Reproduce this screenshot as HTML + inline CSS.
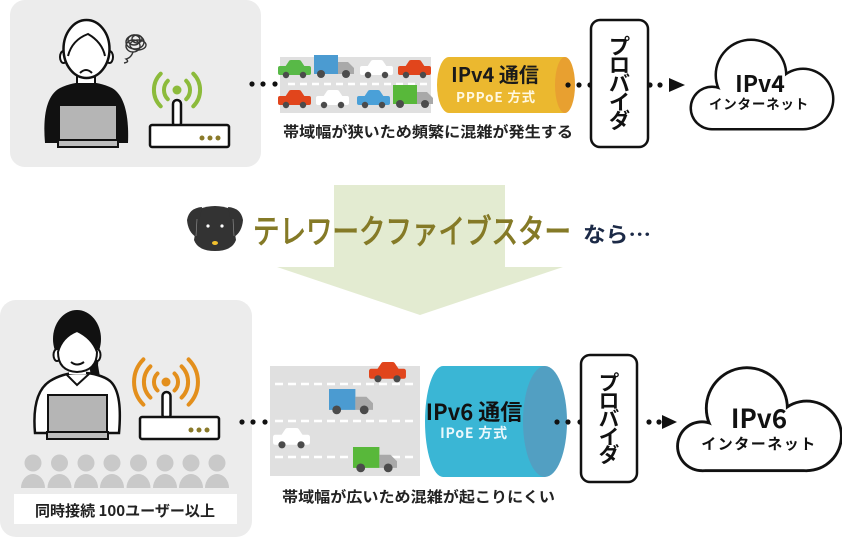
<!DOCTYPE html>
<html><head><meta charset="utf-8">
<style>
html,body{margin:0;padding:0;background:#fff;}
svg{display:block;}
text{font-family:"Liberation Sans","Noto Sans CJK JP",sans-serif;}
.jp{font-family:"Noto Sans CJK JP","Liberation Sans",sans-serif;}
</style></head>
<body>
<svg width="842" height="537" viewBox="0 0 842 537" xmlns="http://www.w3.org/2000/svg">
<defs>
<g id="car">
  <path d="M7 7 L11 1 Q11.5 0 13 0 L21 0 Q22.5 0 23 1 L27 7 Z"/>
  <rect x="0" y="6" width="33" height="9" rx="2"/>
  <circle cx="8" cy="15" r="3.2" fill="#4b4b4b"/>
  <circle cx="25" cy="15" r="3.2" fill="#4b4b4b"/>
</g>
<g id="truck">
  <rect x="0" y="0" width="24" height="19"/>
  <path d="M24 7 L34 7 L40 13 L40 19 L24 19 Z" fill="#a9a9a9"/>
  <circle cx="7" cy="19" r="4" fill="#4b4b4b"/>
  <circle cx="32" cy="19" r="4" fill="#4b4b4b"/>
</g>
<g id="cloud">
  <g fill="#111">
    <circle cx="20" cy="68" r="22.5"/>
    <circle cx="59" cy="35" r="36.5"/>
    <circle cx="111" cy="59" r="31.5"/>
    <rect x="20" y="58" width="91" height="32.5"/>
  </g>
  <g fill="#fff">
    <circle cx="20" cy="68" r="20"/>
    <circle cx="59" cy="35" r="34"/>
    <circle cx="111" cy="59" r="29"/>
    <rect x="20" y="60" width="91" height="28"/>
  </g>
</g>
</defs>

<!-- panels -->
<rect x="10" y="0" width="251" height="167" rx="15" fill="#ececec"/>
<rect x="0" y="300" width="252" height="237" rx="16" fill="#ececec"/>

<!-- big arrow -->
<rect x="334" y="185" width="171" height="83" fill="#e3ebd1"/>
<polygon points="277,267 563,267 420,315" fill="#e3ebd1"/>

<!-- ===== TOP PERSON ===== -->
<path d="M45 143 C43 120 45 96 60 88 C68 84 78 82 86 82 C94 82 104 84 112 88 C126 96 129 120 128 143 Z" fill="#111"/>
<rect x="77" y="72" width="18" height="12" fill="#fff" stroke="#111" stroke-width="2"/>
<ellipse cx="63.5" cy="57" rx="3.5" ry="6" fill="#fff" stroke="#111" stroke-width="2"/>
<ellipse cx="109.5" cy="57" rx="3.5" ry="6" fill="#fff" stroke="#111" stroke-width="2"/>
<ellipse cx="86.5" cy="49" rx="23" ry="29" fill="#fff" stroke="#111" stroke-width="2.5"/>
<path d="M68 56 Q72 40 88 34 Q102 42 105 56" fill="none" stroke="#111" stroke-width="2"/>
<path d="M80 73 Q86 67 92 73" fill="none" stroke="#111" stroke-width="2"/>
<rect x="59" y="105" width="58" height="36" fill="#b5b5b5" stroke="#111" stroke-width="2"/>
<rect x="58" y="140" width="60" height="7" fill="#bdbdbd" stroke="#111" stroke-width="2"/>
<!-- scribble -->
<g fill="none" stroke="#333" stroke-width="1.4">
  <ellipse cx="135" cy="42" rx="9" ry="7"/>
  <ellipse cx="133" cy="46" rx="7" ry="6"/>
  <ellipse cx="138" cy="45" rx="8" ry="5"/>
  <ellipse cx="134" cy="40" rx="6" ry="5"/>
  <ellipse cx="137" cy="39" rx="5" ry="4"/>
  <path d="M133 52 Q131 58 126 59 Q130 62 124 63"/>
</g>
<!-- top router -->
<g fill="none" stroke="#8cbb3b" stroke-width="4" stroke-linecap="round">
  <path d="M167.8 80.8 A13 13 0 0 0 167.8 99.2"/>
  <path d="M186.2 80.8 A13 13 0 0 1 186.2 99.2"/>
  <path d="M160.7 73.7 A23 23 0 0 0 160.7 106.3"/>
  <path d="M193.3 73.7 A23 23 0 0 1 193.3 106.3"/>
</g>
<circle cx="177" cy="90" r="4.5" fill="#8cbb3b"/>
<rect x="173" y="100" width="8" height="27" rx="4" fill="#fff" stroke="#111" stroke-width="2.5"/>
<rect x="150" y="125" width="79" height="22" rx="2" fill="#fff" stroke="#111" stroke-width="2.5"/>
<g fill="#8a7a2a"><circle cx="202" cy="138" r="2.5"/><circle cx="210" cy="138" r="2.5"/><circle cx="218" cy="138" r="2.5"/></g>

<!-- ===== TOP TRAFFIC ===== -->
<rect x="280" y="57" width="151" height="56" fill="#e0e0e0"/>
<line x1="288" y1="84" x2="430" y2="84" stroke="#fff" stroke-width="2.5" stroke-dasharray="7 5"/>
<use href="#car" x="278" y="60" fill="#58b947"/>
<use href="#truck" x="314" y="55" fill="#4b9bd1"/>
<use href="#car" x="360" y="60" fill="#fff"/>
<use href="#car" x="398" y="60" fill="#e1451c"/>
<use href="#car" x="278" y="90" fill="#e1451c"/>
<use href="#car" x="316" y="90" fill="#fff"/>
<use href="#car" x="357" y="90" fill="#4aa0d8"/>
<use href="#truck" x="393" y="85" fill="#58b83a"/>

<!-- top pipe -->
<path d="M449 57 L565 57 L565 113 L449 113 A12 28 0 0 1 449 57 Z" fill="#ebb82f"/>
<ellipse cx="565" cy="85" rx="10" ry="28" fill="#e8a030"/>
<text x="495" y="82" font-size="20" font-weight="700" fill="#1a1a1a" text-anchor="middle" class="jp">IPv4 通信</text>
<text x="496" y="102" font-size="13.5" font-weight="700" fill="#fff8e0" text-anchor="middle" letter-spacing="0.8" class="jp">PPPoE 方式</text>

<text x="283" y="137" font-size="15" font-weight="700" fill="#222" textLength="290" lengthAdjust="spacingAndGlyphs" class="jp">帯域幅が狭いため頻繁に混雑が発生する</text>

<!-- top dots & arrows -->
<g fill="#111">
  <circle cx="252" cy="84" r="2.6"/><circle cx="263" cy="84" r="2.6"/><circle cx="275" cy="84" r="2.6"/>
  <circle cx="568" cy="85" r="2.6"/><circle cx="579" cy="85" r="2.6"/><circle cx="590" cy="85" r="2.6"/>
  <circle cx="650" cy="85" r="2.6"/><circle cx="660" cy="85" r="2.6"/>
  <polygon points="669,78 685,85 669,92"/>
</g>

<!-- top provider -->
<rect x="591" y="20" width="57" height="127" rx="9" fill="#fff" stroke="#111" stroke-width="2.5"/>
<g font-size="21" font-weight="700" fill="#111" text-anchor="middle">
  <text x="619.5" y="54" class="jp">プ</text>
  <text x="619.5" y="72.5" class="jp">ロ</text>
  <text x="619.5" y="91" class="jp">バ</text>
  <text x="619.5" y="109.5" class="jp">イ</text>
  <text x="619.5" y="128" class="jp">ダ</text>
</g>

<!-- top cloud -->
<use href="#cloud" x="692" y="40"/>
<text x="760" y="92" font-size="23" font-weight="700" fill="#111" text-anchor="middle" class="jp">IPv4</text>
<text x="759" y="109" font-size="13.5" font-weight="700" fill="#111" text-anchor="middle" letter-spacing="0.8" class="jp">インターネット</text>

<!-- ===== MIDDLE ===== -->
<path d="M199 209 Q215 203 231 209 L236 240 Q232 251 215 251 Q198 251 194 240 Z" fill="#333"/>
<path d="M202 207 Q189 208 187 220 Q188 232 196 237 Z" fill="#333"/>
<path d="M228 207 Q241 208 243 220 Q242 232 234 237 Z" fill="#333"/>
<path d="M197 219 L196 236 M233 219 L234 236" stroke="#8a8a8a" stroke-width="0.7" fill="none"/>
<circle cx="208" cy="226" r="1.6" fill="#fff"/>
<circle cx="222" cy="226" r="1.6" fill="#fff"/>
<ellipse cx="215" cy="243" rx="3" ry="2" fill="#f2c12e"/>

<text transform="translate(253,243) scale(1,1.22)" font-size="27" font-weight="400" fill="#857a27" stroke="#857a27" stroke-width="0.9" textLength="318" lengthAdjust="spacingAndGlyphs" class="jp">テレワークファイブスター</text>
<text x="583" y="242" font-size="21" font-weight="700" fill="#1c2a47" textLength="68" lengthAdjust="spacingAndGlyphs" class="jp">なら…</text>

<!-- ===== BOTTOM PERSON ===== -->
<path d="M86 340 Q100 350 98 365 Q100 378 102 385 L92 385 Z" fill="#111"/>
<path d="M35 433 C33 410 36 390 50 381 C58 376 68 373 76 373 L84 373 C92 373 104 376 110 381 C120 390 121 410 119 433 Z" fill="#fff" stroke="#111" stroke-width="2.5"/>
<path d="M66 374 L77 385 L89 374" fill="none" stroke="#111" stroke-width="2"/>
<rect x="69" y="364" width="17" height="10" fill="#fff"/>
<ellipse cx="77" cy="339" rx="24" ry="29" fill="#111"/>
<ellipse cx="57" cy="355" rx="3.5" ry="6" fill="#fff" stroke="#111" stroke-width="2"/>
<ellipse cx="97" cy="355" rx="3.5" ry="6" fill="#fff" stroke="#111" stroke-width="2"/>
<path d="M58 352 Q62 337 77 331 Q92 338 97 352 Q97 371 77 372 Q58 371 58 352 Z" fill="#fff" stroke="#111" stroke-width="2"/>
<path d="M71 362 Q77 367 84 362" fill="none" stroke="#111" stroke-width="2"/>
<rect x="48" y="395" width="59" height="38" fill="#b5b5b5" stroke="#111" stroke-width="2"/>
<rect x="47" y="432" width="61" height="7" fill="#bdbdbd" stroke="#111" stroke-width="2"/>

<!-- bottom router -->
<g fill="none" stroke="#e38f1c" stroke-width="4" stroke-linecap="round">
  <path d="M157.5 373.5 A12 12 0 0 0 157.5 390.5"/>
  <path d="M174.5 373.5 A12 12 0 0 1 174.5 390.5"/>
  <path d="M150.4 366.4 A22 22 0 0 0 150.4 397.6"/>
  <path d="M181.6 366.4 A22 22 0 0 1 181.6 397.6"/>
  <path d="M143.4 359.4 A32 32 0 0 0 143.4 404.6"/>
  <path d="M188.6 359.4 A32 32 0 0 1 188.6 404.6"/>
</g>
<circle cx="166" cy="382" r="4.5" fill="#e38f1c"/>
<rect x="162.5" y="392" width="8" height="27" rx="4" fill="#fff" stroke="#111" stroke-width="2.5"/>
<rect x="140" y="417" width="79" height="22" rx="2" fill="#fff" stroke="#111" stroke-width="2.5"/>
<g fill="#8a7a2a"><circle cx="191" cy="430" r="2.5"/><circle cx="199" cy="430" r="2.5"/><circle cx="207" cy="430" r="2.5"/></g>

<!-- people row -->
<g fill="#c9c9c9">
  <circle cx="33" cy="463" r="8.5"/><path d="M21 488 A12 14 0 0 1 45 488 Z"/>
  <circle cx="59.5" cy="463" r="8.5"/><path d="M47.5 488 A12 14 0 0 1 71.5 488 Z"/>
  <circle cx="86" cy="463" r="8.5"/><path d="M74 488 A12 14 0 0 1 98 488 Z"/>
  <circle cx="112" cy="463" r="8.5"/><path d="M100 488 A12 14 0 0 1 124 488 Z"/>
  <circle cx="138.5" cy="463" r="8.5"/><path d="M126.5 488 A12 14 0 0 1 150.5 488 Z"/>
  <circle cx="165" cy="463" r="8.5"/><path d="M153 488 A12 14 0 0 1 177 488 Z"/>
  <circle cx="191" cy="463" r="8.5"/><path d="M179 488 A12 14 0 0 1 203 488 Z"/>
  <circle cx="217" cy="463" r="8.5"/><path d="M205 488 A12 14 0 0 1 229 488 Z"/>
</g>
<rect x="14" y="494" width="223" height="30" fill="#fff"/>
<text x="35" y="516" font-size="15" font-weight="700" fill="#222" textLength="180" lengthAdjust="spacingAndGlyphs" class="jp">同時接続 100ユーザー以上</text>

<!-- bottom traffic -->
<rect x="270" y="366" width="150" height="110" fill="#e0e0e0"/>
<g stroke="#fff" stroke-width="2.5" stroke-dasharray="8 5">
  <line x1="275" y1="384" x2="418" y2="384"/>
  <line x1="275" y1="421" x2="418" y2="421"/>
  <line x1="275" y1="457" x2="418" y2="457"/>
</g>
<use href="#car" transform="translate(369,362) scale(1.12)" fill="#e1451c"/>
<use href="#truck" transform="translate(329,389) scale(1.1)" fill="#4b9bd1"/>
<use href="#car" transform="translate(273,428) scale(1.12)" fill="#fff"/>
<use href="#truck" transform="translate(353,447) scale(1.1)" fill="#58b83a"/>

<!-- bottom pipe -->
<path d="M443 366 L545 366 L545 477 L443 477 A18 55.5 0 0 1 443 366 Z" fill="#3ab6d5"/>
<ellipse cx="545" cy="421.5" rx="22" ry="55.5" fill="#529fc2"/>
<text x="474" y="420" font-size="22" font-weight="700" fill="#111" text-anchor="middle" class="jp">IPv6 通信</text>
<text x="474" y="438" font-size="14" font-weight="700" fill="#eaf8fc" text-anchor="middle" letter-spacing="0.8" class="jp">IPoE 方式</text>

<text x="282" y="502" font-size="15" font-weight="700" fill="#222" textLength="273" lengthAdjust="spacingAndGlyphs" class="jp">帯域幅が広いため混雑が起こりにくい</text>

<!-- bottom dots -->
<g fill="#111">
  <circle cx="242" cy="422" r="2.6"/><circle cx="253" cy="422" r="2.6"/><circle cx="265" cy="422" r="2.6"/>
  <circle cx="557" cy="422" r="2.6"/><circle cx="568" cy="422" r="2.6"/><circle cx="580" cy="422" r="2.6"/>
  <circle cx="649" cy="422" r="2.6"/><circle cx="659" cy="422" r="2.6"/>
  <polygon points="662,415 677,422 662,429"/>
</g>

<!-- bottom provider -->
<rect x="581" y="355" width="56" height="127" rx="9" fill="#fff" stroke="#111" stroke-width="2.5"/>
<g font-size="20.5" font-weight="700" fill="#111" text-anchor="middle">
  <text x="609" y="390" class="jp">プ</text>
  <text x="609" y="408" class="jp">ロ</text>
  <text x="609" y="426" class="jp">バ</text>
  <text x="609" y="444" class="jp">イ</text>
  <text x="609" y="462" class="jp">ダ</text>
</g>

<!-- bottom cloud -->
<use href="#cloud" transform="translate(679,368) scale(1.15)"/>
<text x="759" y="428" font-size="26" font-weight="700" fill="#111" text-anchor="middle" class="jp">IPv6</text>
<text x="759" y="449" font-size="15" font-weight="700" fill="#111" text-anchor="middle" letter-spacing="1.5" class="jp">インターネット</text>
</svg>
</body></html>
